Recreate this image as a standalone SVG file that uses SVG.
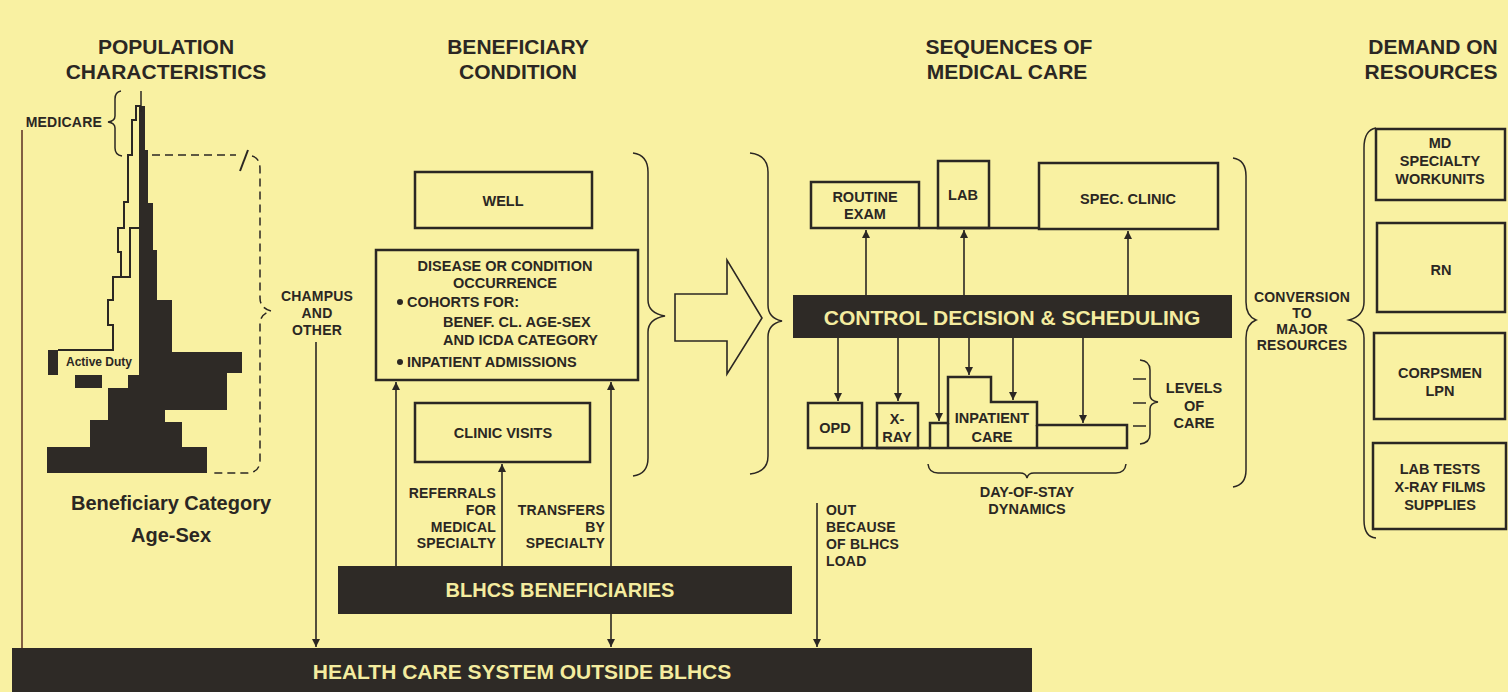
<svg xmlns="http://www.w3.org/2000/svg" width="1508" height="692" viewBox="0 0 1508 692">
<defs>
<style>
text{font-family:"Liberation Sans",Arial,sans-serif;font-weight:bold;fill:#2b2723}
.hdr{font-size:21px;text-anchor:middle}
.lbl{font-size:14.5px;text-anchor:middle}
.lbs{font-size:14px;letter-spacing:0.2px}
.st{text-anchor:start}
.en{text-anchor:end}
.box{fill:none;stroke:#2b2723;stroke-width:2.5}
.bar{fill:#2e2a26}
.bt{fill:#f4ec9f;text-anchor:middle}
.ln{fill:none;stroke:#2b2723;stroke-width:1.6}
.thin{fill:none;stroke:#2b2723;stroke-width:1.5}
.dash{stroke-dasharray:8 5}
.arr{marker-end:url(#ah)}
</style>
<marker id="ah" markerUnits="userSpaceOnUse" markerWidth="8" markerHeight="8" refX="8" refY="4" orient="auto">
<path d="M0,0 L8,4 L0,8 Z" fill="#2b2723"/>
</marker>
</defs>
<rect width="1508" height="692" fill="#f9f1a2"/>

<g id="headers">
<text class="hdr" x="166" y="54">POPULATION</text>
<text class="hdr" x="166" y="79">CHARACTERISTICS</text>
<text class="hdr" x="518" y="54">BENEFICIARY</text>
<text class="hdr" x="518" y="79">CONDITION</text>
<text class="hdr" x="1009" y="54">SEQUENCES OF</text>
<text class="hdr" x="1007" y="79">MEDICAL CARE</text>
<text class="hdr" x="1433" y="54">DEMAND ON</text>
<text class="hdr" x="1431" y="79">RESOURCES</text>
</g>

<g id="population">
<path d="M141,106 H145 V150 H148 V203 H153 V250 H157 V300 H172 V352 H242 V373 H227 V410 H165 V422 H182 V447 H207 V473 H47 V447 H90 V420 H108 V388 H75 V375 H48 V350 H139 V106 Z" fill="#2e2a26"/>
<path d="M58,350 H139 V375 H128 V388 H102 V375 H58 Z" fill="#f9f1a2"/>
<path d="M141,106 H136 V120 H132 V155 H128 V202 H124 V228 H118 V252 H121 V277 H113 V300 H108 V325 H113 V350 H58" fill="none" stroke="#2b2723" stroke-width="2"/>
<path d="M139,228 H130 V277 H113" fill="none" stroke="#2b2723" stroke-width="2"/>
<line x1="141" y1="91" x2="141" y2="112" stroke="#2b2723" stroke-width="1.5"/>
<text x="66" y="366" class="st" style="font-size:12px">Active Duty</text>
<text x="102" y="127" class="en lbs">MEDICARE</text>
<path class="thin" d="M121,91 Q115,92 115,99 V116 Q115,121 108,122 Q115,123 115,128 V148 Q115,155 122,156"/>
<path class="thin dash" d="M152,155 H236"/>
<line x1="240" y1="171" x2="248" y2="150" stroke="#2b2723" stroke-width="2"/>
<path class="thin dash" d="M252,156 Q260,158 260,169 V298 Q260,308 271,311 Q260,314 260,324 V460 Q260,472 248,473 H213" stroke-dasharray="7 5"/>
<text class="lbl lbs" x="317" y="301">CHAMPUS</text>
<text class="lbl lbs" x="317" y="318">AND</text>
<text class="lbl lbs" x="317" y="335">OTHER</text>
<text class="hdr" x="171" y="510" style="font-size:20px">Beneficiary Category</text>
<text class="hdr" x="171" y="542" style="font-size:20px">Age-Sex</text>
</g>

<g id="node-well">
<rect class="box" x="415" y="172" width="177" height="56"/>
<text class="lbl" x="503" y="206">WELL</text>
</g>

<g id="node-disease">
<rect class="box" x="376" y="250" width="262" height="130"/>
<text class="lbl" x="505" y="271">DISEASE OR CONDITION</text>
<text class="lbl" x="505" y="288">OCCURRENCE</text>
<circle cx="400" cy="302" r="3" fill="#2b2723"/>
<text class="lbl st" x="407" y="307">COHORTS FOR:</text>
<text class="lbl st" x="443" y="327">BENEF. CL. AGE-SEX</text>
<text class="lbl st" x="443" y="345">AND ICDA CATEGORY</text>
<circle cx="400" cy="362" r="3" fill="#2b2723"/>
<text class="lbl st" x="407" y="367">INPATIENT ADMISSIONS</text>
</g>

<g id="node-clinic-visits">
<rect class="box" x="415" y="403" width="175" height="59"/>
<text class="lbl" x="503" y="438">CLINIC VISITS</text>
</g>

<g id="brace-condition">
<path class="thin" d="M633,153 Q648,155 648,172 V300 Q648,313 665,316 Q648,319 648,332 V458 Q648,474 633,476"/>
</g>

<g id="big-arrow">
<path d="M675,294 H727 V260 L762,318 L727,374 V341 H675 Z" fill="none" stroke="#2b2723" stroke-width="1.6"/>
<path class="thin" d="M750,153 Q768,155 768,172 V305 Q768,318 782,321 Q768,324 768,337 V456 Q768,472 750,474"/>
</g>

<g id="node-routine-exam">
<rect class="box" x="811" y="182" width="108" height="46"/>
<text class="lbl" x="865" y="202">ROUTINE</text>
<text class="lbl" x="865" y="219">EXAM</text>
</g>
<g id="node-lab">
<rect class="box" x="938" y="161" width="51" height="67"/>
<text class="lbl" x="963" y="200">LAB</text>
</g>
<g id="node-spec-clinic">
<rect class="box" x="1039" y="163" width="179" height="66"/>
<text class="lbl" x="1128" y="204">SPEC. CLINIC</text>
</g>

<g id="node-control">
<rect class="bar" x="793" y="295" width="439" height="43"/>
<text class="bt" x="1012" y="325" style="font-size:21px">CONTROL DECISION &amp; SCHEDULING</text>
</g>

<g id="node-opd">
<rect class="box" x="808" y="403" width="54" height="45"/>
<text class="lbl" x="835" y="433">OPD</text>
</g>
<g id="node-xray">
<rect class="box" x="877" y="403" width="41" height="45"/>
<text class="lbl" x="897" y="424">X-</text>
<text class="lbl" x="897" y="442">RAY</text>
</g>
<g id="node-inpatient">
<path class="box" d="M930,448 V423 H948 V377 H991 V402 H1037 V425 H1127 V448 Z"/>
<line class="box" x1="948" y1="423" x2="948" y2="448"/>
<line class="box" x1="1037" y1="425" x2="1037" y2="448"/>
<text class="lbl" x="992" y="423">INPATIENT</text>
<text class="lbl" x="992" y="442">CARE</text>
</g>

<g id="levels-of-care">
<line class="thin" x1="1133" y1="379" x2="1146" y2="379"/>
<line class="thin" x1="1133" y1="403" x2="1146" y2="403"/>
<line class="thin" x1="1133" y1="426" x2="1146" y2="426"/>
<path class="thin" d="M1140,360 Q1150,361 1150,370 V395 Q1150,401 1158,402 Q1150,403 1150,409 V434 Q1150,443 1140,444"/>
<text class="lbl" x="1194" y="393">LEVELS</text>
<text class="lbl" x="1194" y="411">OF</text>
<text class="lbl" x="1194" y="428">CARE</text>
</g>

<g id="day-of-stay">
<path class="thin" d="M928,464 Q929,473 938,473 H1020 Q1026,473 1027,478 Q1028,473 1034,473 H1116 Q1125,473 1126,464"/>
<text class="lbl" x="1027" y="497">DAY-OF-STAY</text>
<text class="lbl" x="1027" y="514">DYNAMICS</text>
</g>

<g id="conversion">
<path class="thin" d="M1233,158 Q1246,160 1246,176 V302 Q1246,316 1256,320 Q1246,324 1246,338 V470 Q1246,485 1233,487"/>
<text class="lbl lbs" x="1302" y="302">CONVERSION</text>
<text class="lbl lbs" x="1302" y="318">TO</text>
<text class="lbl lbs" x="1302" y="334">MAJOR</text>
<text class="lbl lbs" x="1302" y="350">RESOURCES</text>
<path class="thin" d="M1376,128 Q1364,130 1364,148 V302 Q1364,316 1349,320 Q1364,324 1364,338 V520 Q1364,537 1376,538"/>
</g>

<g id="node-md">
<rect class="box" x="1376" y="129" width="129" height="71"/>
<text class="lbl" x="1440" y="148">MD</text>
<text class="lbl" x="1440" y="166">SPECIALTY</text>
<text class="lbl" x="1440" y="184">WORKUNITS</text>
</g>
<g id="node-rn">
<rect class="box" x="1377" y="223" width="128" height="89"/>
<text class="lbl" x="1441" y="275">RN</text>
</g>
<g id="node-corpsmen">
<rect class="box" x="1374" y="333" width="131" height="86"/>
<text class="lbl" x="1440" y="378">CORPSMEN</text>
<text class="lbl" x="1440" y="396">LPN</text>
</g>
<g id="node-supplies">
<rect class="box" x="1373" y="443" width="133" height="86"/>
<text class="lbl" x="1440" y="474">LAB TESTS</text>
<text class="lbl" x="1440" y="492">X-RAY FILMS</text>
<text class="lbl" x="1440" y="510">SUPPLIES</text>
</g>

<g id="node-blhcs">
<rect class="bar" x="338" y="566" width="454" height="48"/>
<text class="bt" x="560" y="597" style="font-size:20px">BLHCS BENEFICIARIES</text>
</g>

<g id="node-health-care">
<rect class="bar" x="12" y="648" width="1020" height="44"/>
<text class="bt" x="522" y="679" style="font-size:21px">HEALTH CARE SYSTEM OUTSIDE BLHCS</text>
</g>

<g id="connector-labels">
<text class="lbs en" x="496" y="498">REFERRALS</text>
<text class="lbs en" x="496" y="515">FOR</text>
<text class="lbs en" x="496" y="532">MEDICAL</text>
<text class="lbs en" x="496" y="548">SPECIALTY</text>
<text class="lbs en" x="605" y="515">TRANSFERS</text>
<text class="lbs en" x="605" y="532">BY</text>
<text class="lbs en" x="605" y="548">SPECIALTY</text>
<text class="lbs st" x="826" y="515">OUT</text>
<text class="lbs st" x="826" y="532">BECAUSE</text>
<text class="lbs st" x="826" y="549">OF BLHCS</text>
<text class="lbs st" x="826" y="566">LOAD</text>
</g>

<g id="connectors">
<line x1="22" y1="130" x2="22" y2="648" stroke="#5a2e22" stroke-width="1.5"/>
<line class="ln arr" x1="316" y1="342" x2="316" y2="647"/>
<line class="ln arr" x1="396" y1="566" x2="396" y2="382"/>
<line class="ln arr" x1="502" y1="566" x2="502" y2="464"/>
<line class="ln arr" x1="611" y1="566" x2="611" y2="382"/>
<line class="ln arr" x1="611" y1="614" x2="611" y2="647"/>
<line class="ln arr" x1="817" y1="503" x2="817" y2="647"/>
<line class="box" x1="919" y1="228" x2="1039" y2="228"/>
<line class="box" x1="862" y1="448" x2="930" y2="448"/>
<line class="ln arr" x1="866" y1="295" x2="866" y2="230"/>
<line class="ln arr" x1="964" y1="295" x2="964" y2="230"/>
<line class="ln arr" x1="1128" y1="295" x2="1128" y2="231"/>
<line class="ln arr" x1="838" y1="338" x2="838" y2="401"/>
<line class="ln arr" x1="898" y1="338" x2="898" y2="401"/>
<line class="ln arr" x1="939" y1="338" x2="939" y2="421"/>
<line class="ln arr" x1="969" y1="338" x2="969" y2="375"/>
<line class="ln arr" x1="1013" y1="338" x2="1013" y2="400"/>
<line class="ln arr" x1="1083" y1="338" x2="1083" y2="423"/>
</g>
</svg>
